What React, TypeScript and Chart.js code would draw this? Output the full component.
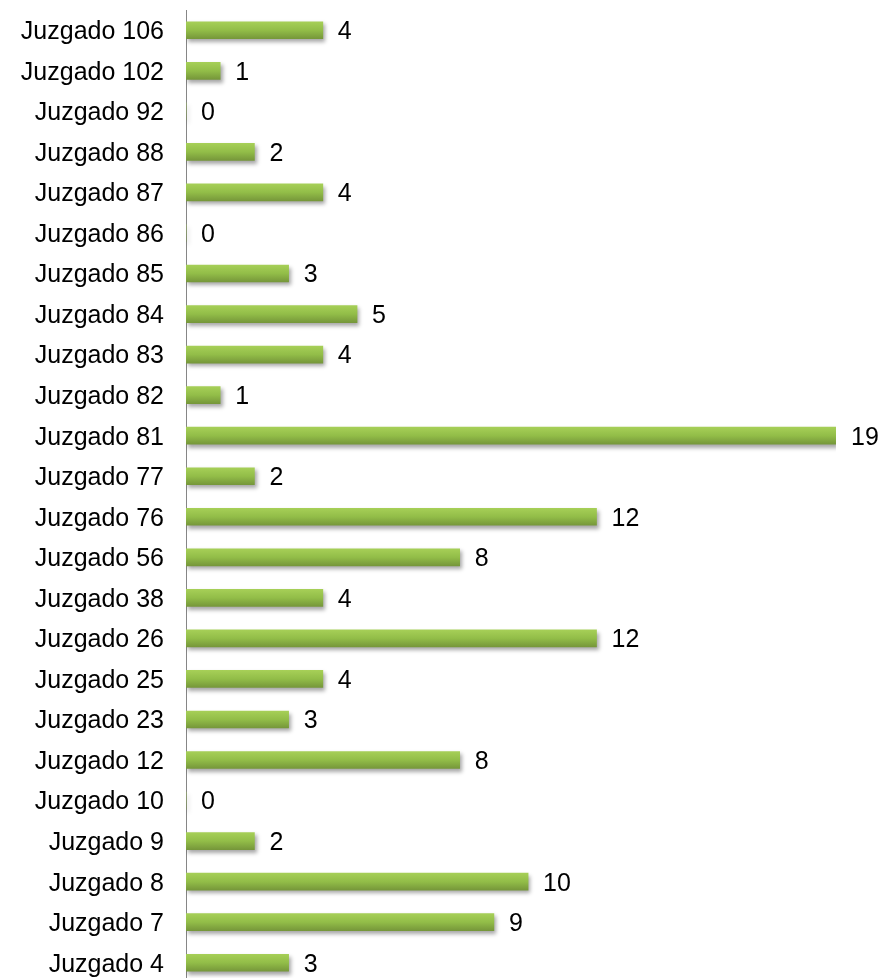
import React, { useEffect, useRef } from "react";
import { Chart, registerables } from "chart.js";

Chart.register(...registerables);

const categories: string[] = [
  "Juzgado 106", "Juzgado 102", "Juzgado 92", "Juzgado 88", "Juzgado 87", "Juzgado 86",
  "Juzgado 85", "Juzgado 84", "Juzgado 83", "Juzgado 82", "Juzgado 81", "Juzgado 77",
  "Juzgado 76", "Juzgado 56", "Juzgado 38", "Juzgado 26", "Juzgado 25", "Juzgado 23",
  "Juzgado 12", "Juzgado 10", "Juzgado 9", "Juzgado 8", "Juzgado 7", "Juzgado 4",
];

const values: number[] = [4, 1, 0, 2, 4, 0, 3, 5, 4, 1, 19, 2, 12, 8, 4, 12, 4, 3, 8, 0, 2, 10, 9, 3];

const FONT = "'Liberation Sans', Arial, sans-serif";
const FONT_SIZE = 25;
const BAR_THICK = 17;

const shadowPlugin = {
  id: "barShadow",
  beforeDatasetsDraw(chart: any) {
    const ctx = chart.ctx;
    ctx.save();
    ctx.shadowColor = "rgba(0,0,0,0.35)";
    ctx.shadowOffsetX = 2;
    ctx.shadowOffsetY = 3;
    ctx.shadowBlur = 4;
  },
  afterDatasetsDraw(chart: any) {
    const ctx = chart.ctx;
    ctx.restore();
    const meta = chart.getDatasetMeta(0);
    ctx.save();
    ctx.font = `${FONT_SIZE}px ${FONT}`;
    ctx.fillStyle = "#000";
    ctx.textAlign = "left";
    ctx.textBaseline = "middle";
    meta.data.forEach((el: any, i: number) => {
      const v = chart.data.datasets[0].data[i];
      ctx.fillText(String(v), el.x + 15, el.y + 2);
    });
    ctx.restore();
  },
};

export default function App() {
  const ref = useRef<HTMLCanvasElement | null>(null);
  useEffect(() => {
    if (!ref.current) return;
    const chart = new Chart(ref.current, {
      type: "bar",
      data: {
        labels: categories,
        datasets: [
          {
            data: values,
            barThickness: BAR_THICK,
            borderWidth: 0,
            backgroundColor: (c: any) => {
              const ch = c.chart;
              const ys = ch.scales && ch.scales.y;
              if (!ys || c.dataIndex === undefined) return "#8db844";
              const y = ys.getPixelForValue(c.dataIndex);
              if (!isFinite(y)) return "#8db844";
              const g = ch.ctx.createLinearGradient(0, y - BAR_THICK / 2, 0, y + BAR_THICK / 2);
              g.addColorStop(0, "#a6cf57");
              g.addColorStop(0.5, "#92bd48");
              g.addColorStop(1, "#76973a");
              return g;
            },
          },
        ],
      },
      options: {
        indexAxis: "y",
        responsive: false,
        animation: false,
        devicePixelRatio: 1,
        layout: { padding: { top: 10, bottom: 7, right: 51, left: 0 } },
        plugins: { legend: { display: false }, tooltip: { enabled: false } },
        scales: {
          x: { display: false, min: 0, max: 19 },
          y: {
            grid: { display: false, drawTicks: false },
            border: { display: true, color: "#868686", width: 1 },
            ticks: { color: "#000", font: { family: FONT, size: FONT_SIZE }, padding: 22, labelOffset: 2 },
            afterFit: (s: any) => {
              s.width = 186;
              s.paddingTop = 0;
              s.paddingBottom = 0;
            },
          },
        },
      },
      plugins: [shadowPlugin],
    } as any);
    return () => chart.destroy();
  }, []);
  return (
    <div style={{ position: "absolute", left: 0, top: 0, width: 887, height: 978, overflow: "hidden", background: "#fff" }}>
      <canvas ref={ref} width={887} height={990} style={{ display: "block", width: 887, height: 990 }} />
    </div>
  );
}
